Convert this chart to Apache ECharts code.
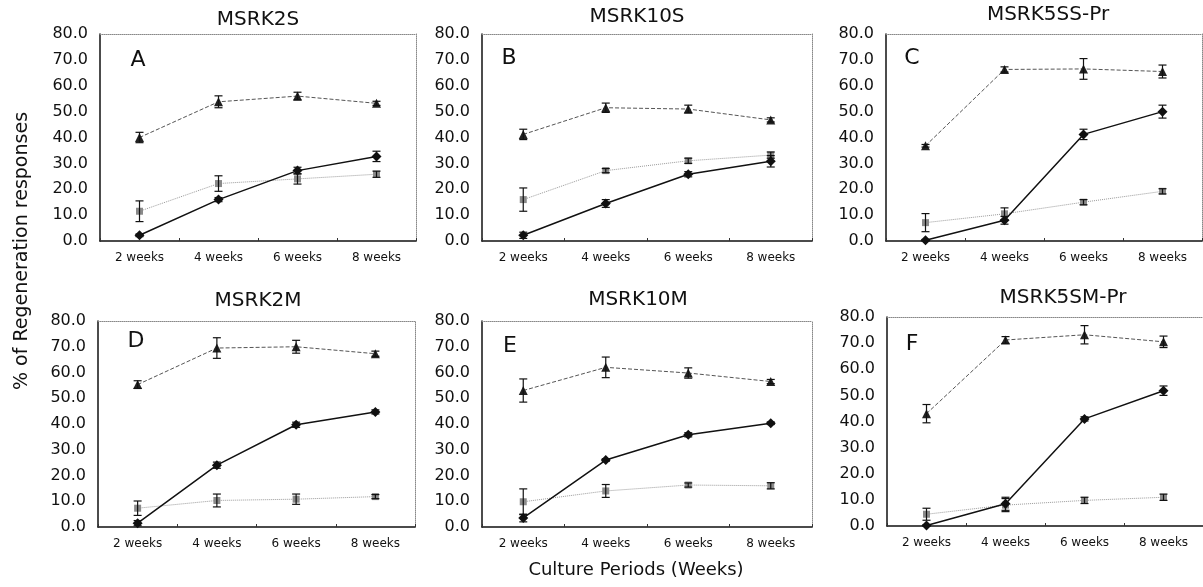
<!DOCTYPE html>
<html>
<head>
<meta charset="utf-8">
<script src="https://cdn.jsdelivr.net/npm/echarts@6/dist/echarts.min.js"></script>
<style>
  html, body { margin: 0; padding: 0; background: #fff; }
  #chart { width: 1203px; height: 587px; }
</style>
</head>
<body>
<div id="chart"></div>
<script>
// categories and panels
const weeks = ['2 weeks', '4 weeks', '6 weeks', '8 weeks'];
const panelTitles = ['MSRK2S', 'MSRK10S', 'MSRK5SS-Pr', 'MSRK2M', 'MSRK10M', 'MSRK5SM-Pr'];
const panelLetters = ['A', 'B', 'C', 'D', 'E', 'F'];
const yTicks = [0, 10, 20, 30, 40, 50, 60, 70, 80];

// triangle series (dashed)
const triMean = [
  [40.0, 53.8, 56.0, 53.2],
  [41.2, 51.5, 51.0, 46.8],
  [36.8, 66.3, 66.5, 65.5],
  [55.3, 69.5, 70.0, 67.3],
  [53.0, 62.0, 59.8, 56.5],
  [43.0, 71.2, 73.2, 70.5]
];
const triErr = [
  [2.0, 2.3, 1.5, 0.8],
  [2.0, 1.8, 1.5, 0.8],
  [0.5, 1.0, 4.0, 2.5],
  [1.5, 4.0, 2.5, 1.0],
  [4.5, 4.0, 2.0, 0.8],
  [3.5, 1.3, 3.5, 2.2]
];
// diamond series (solid black)
const diaMean = [
  [2.2, 16.0, 27.2, 32.7],
  [2.2, 14.5, 25.8, 30.8],
  [0.3, 8.0, 41.2, 50.0],
  [1.5, 24.0, 39.7, 44.7],
  [3.5, 26.0, 35.8, 40.3],
  [0.2, 8.5, 41.0, 51.8]
];
const diaErr = [
  [0.5, 0.8, 1.3, 2.0],
  [1.2, 1.5, 1.0, 2.2],
  [0.3, 1.5, 2.0, 2.5],
  [1.0, 1.2, 1.0, 0.8],
  [1.5, 0.5, 0.8, 0.5],
  [0.3, 2.5, 0.8, 1.8]
];
// square series (dotted grey)
const sqMean = [
  [11.5, 22.2, 24.0, 25.8],
  [16.0, 27.2, 31.0, 33.2],
  [7.1, 10.5, 15.0, 19.2],
  [7.3, 10.3, 10.8, 11.8],
  [9.8, 14.0, 16.3, 16.0],
  [4.5, 8.0, 9.8, 11.0]
];
const sqErr = [
  [4.0, 3.0, 2.0, 1.2],
  [4.5, 0.8, 1.0, 1.2],
  [3.5, 2.3, 1.0, 1.0],
  [2.8, 2.5, 2.0, 0.8],
  [5.0, 2.5, 0.8, 1.2],
  [2.3, 2.5, 1.2, 1.2]
];

const FONT = '"DejaVu Sans", Arial, sans-serif';
const chart = echarts.init(document.getElementById('chart'), null, { renderer: 'canvas' });

// plot boxes of the 6 panels
const boxes = [
  { left: 100, top: 34, width: 316, height: 207 },
  { left: 482, top: 34, width: 330, height: 207 },
  { left: 886, top: 34, width: 316, height: 207 },
  { left: 98, top: 321, width: 317, height: 206 },
  { left: 482, top: 321, width: 330, height: 206 },
  { left: 887, top: 317, width: 320, height: 209 }
];
const titlePos = [[258, 20], [637, 17], [1048, 15], [258, 301], [638, 300], [1063, 298]];
const letterPos = [[138, 60], [509, 58], [912, 58], [136, 341], [510, 346], [912, 344]];

// error bar drawing
function errRender(params, api) {
  const x = api.value(0);
  const top = api.coord([x, api.value(2)]);
  const bot = api.coord([x, api.value(1)]);
  const w = 4;
  const st = { stroke: '#111', lineWidth: 1.2 };
  return {
    type: 'group',
    children: [
      { type: 'line', shape: { x1: top[0], y1: top[1], x2: bot[0], y2: bot[1] }, style: st },
      { type: 'line', shape: { x1: top[0] - w, y1: top[1], x2: top[0] + w, y2: top[1] }, style: st },
      { type: 'line', shape: { x1: bot[0] - w, y1: bot[1], x2: bot[0] + w, y2: bot[1] }, style: st }
    ]
  };
}
function errData(mean, err) {
  return mean.map((m, i) => [i, Math.max(0, m - err[i]), m + err[i]]);
}

const grid = [], xAxis = [], yAxis = [], series = [], graphic = [];

boxes.forEach((b, p) => {
  grid.push(Object.assign({ containLabel: false }, b));
  // bottom category axis
  xAxis.push({
    type: 'category', gridIndex: p, data: weeks, boundaryGap: true,
    axisLine: { lineStyle: { color: '#111', width: 1.5 } },
    axisTick: { show: true, inside: true, length: 3, lineStyle: { color: '#333' } },
    axisLabel: { fontFamily: FONT, fontSize: 12, color: '#111', margin: 11 },
    splitLine: { show: false }
  });
  // top dotted border
  xAxis.push({
    type: 'category', gridIndex: p, data: weeks, position: 'top',
    axisLine: { onZero: false, lineStyle: { color: '#888', width: 1, type: 'dotted' } },
    axisTick: { show: false }, axisLabel: { show: false }
  });
  yAxis.push({
    type: 'value', gridIndex: p, min: 0, max: 80, interval: 10,
    axisLine: { show: true, lineStyle: { color: '#111', width: 1.5 } },
    axisTick: { show: false },
    axisLabel: {
      fontFamily: FONT, fontSize: 16, color: '#111', margin: 12,
      formatter: v => yTicks.indexOf(v) >= 0 ? v.toFixed(1) : ''
    },
    splitLine: { show: false }
  });
  // right dotted border
  yAxis.push({
    type: 'value', gridIndex: p, min: 0, max: 80, position: 'right',
    axisLine: { show: true, onZero: false, lineStyle: { color: '#888', width: 1, type: 'dotted' } },
    axisTick: { show: false }, axisLabel: { show: false }, splitLine: { show: false }
  });

  const xi = p * 2, yi = p * 2;
  series.push({
    type: 'line', xAxisIndex: xi, yAxisIndex: yi, data: sqMean[p],
    symbol: 'rect', symbolSize: 7, itemStyle: { color: '#8a8a8a' },
    lineStyle: { color: '#9a9a9a', width: 1, type: 'dotted' }, z: 2
  });
  series.push({
    type: 'line', xAxisIndex: xi, yAxisIndex: yi, data: triMean[p],
    symbol: 'triangle', symbolSize: 9, itemStyle: { color: '#222' },
    lineStyle: { color: '#555', width: 1, type: [4, 2] }, z: 3
  });
  series.push({
    type: 'line', xAxisIndex: xi, yAxisIndex: yi, data: diaMean[p],
    symbol: 'diamond', symbolSize: 10, itemStyle: { color: '#111' },
    lineStyle: { color: '#111', width: 1.5 }, z: 4
  });
  [[sqMean, sqErr], [triMean, triErr], [diaMean, diaErr]].forEach(([m, e]) => {
    series.push({
      type: 'custom', xAxisIndex: xi, yAxisIndex: yi, renderItem: errRender,
      data: errData(m[p], e[p]), z: 5, silent: true
    });
  });

  graphic.push({
    type: 'text', x: titlePos[p][0], y: titlePos[p][1],
    style: { text: panelTitles[p], font: '20px ' + FONT, fill: '#111', textAlign: 'center', textVerticalAlign: 'middle' }
  });
  graphic.push({
    type: 'text', x: letterPos[p][0], y: letterPos[p][1],
    style: { text: panelLetters[p], font: '22px ' + FONT, fill: '#111', textAlign: 'center', textVerticalAlign: 'middle' }
  });
});

graphic.push({
  type: 'text', x: 636, y: 570,
  style: { text: 'Culture Periods (Weeks)', font: '18px ' + FONT, fill: '#111', textAlign: 'center', textVerticalAlign: 'middle' }
});
graphic.push({
  type: 'text', x: 22, y: 251, rotation: Math.PI / 2,
  style: { text: '% of Regeneration responses', font: '19px ' + FONT, fill: '#111', textAlign: 'center', textVerticalAlign: 'middle' }
});

chart.setOption({
  animation: false,
  backgroundColor: '#fff',
  grid, xAxis, yAxis, series, graphic
});
</script>
</body>
</html>
